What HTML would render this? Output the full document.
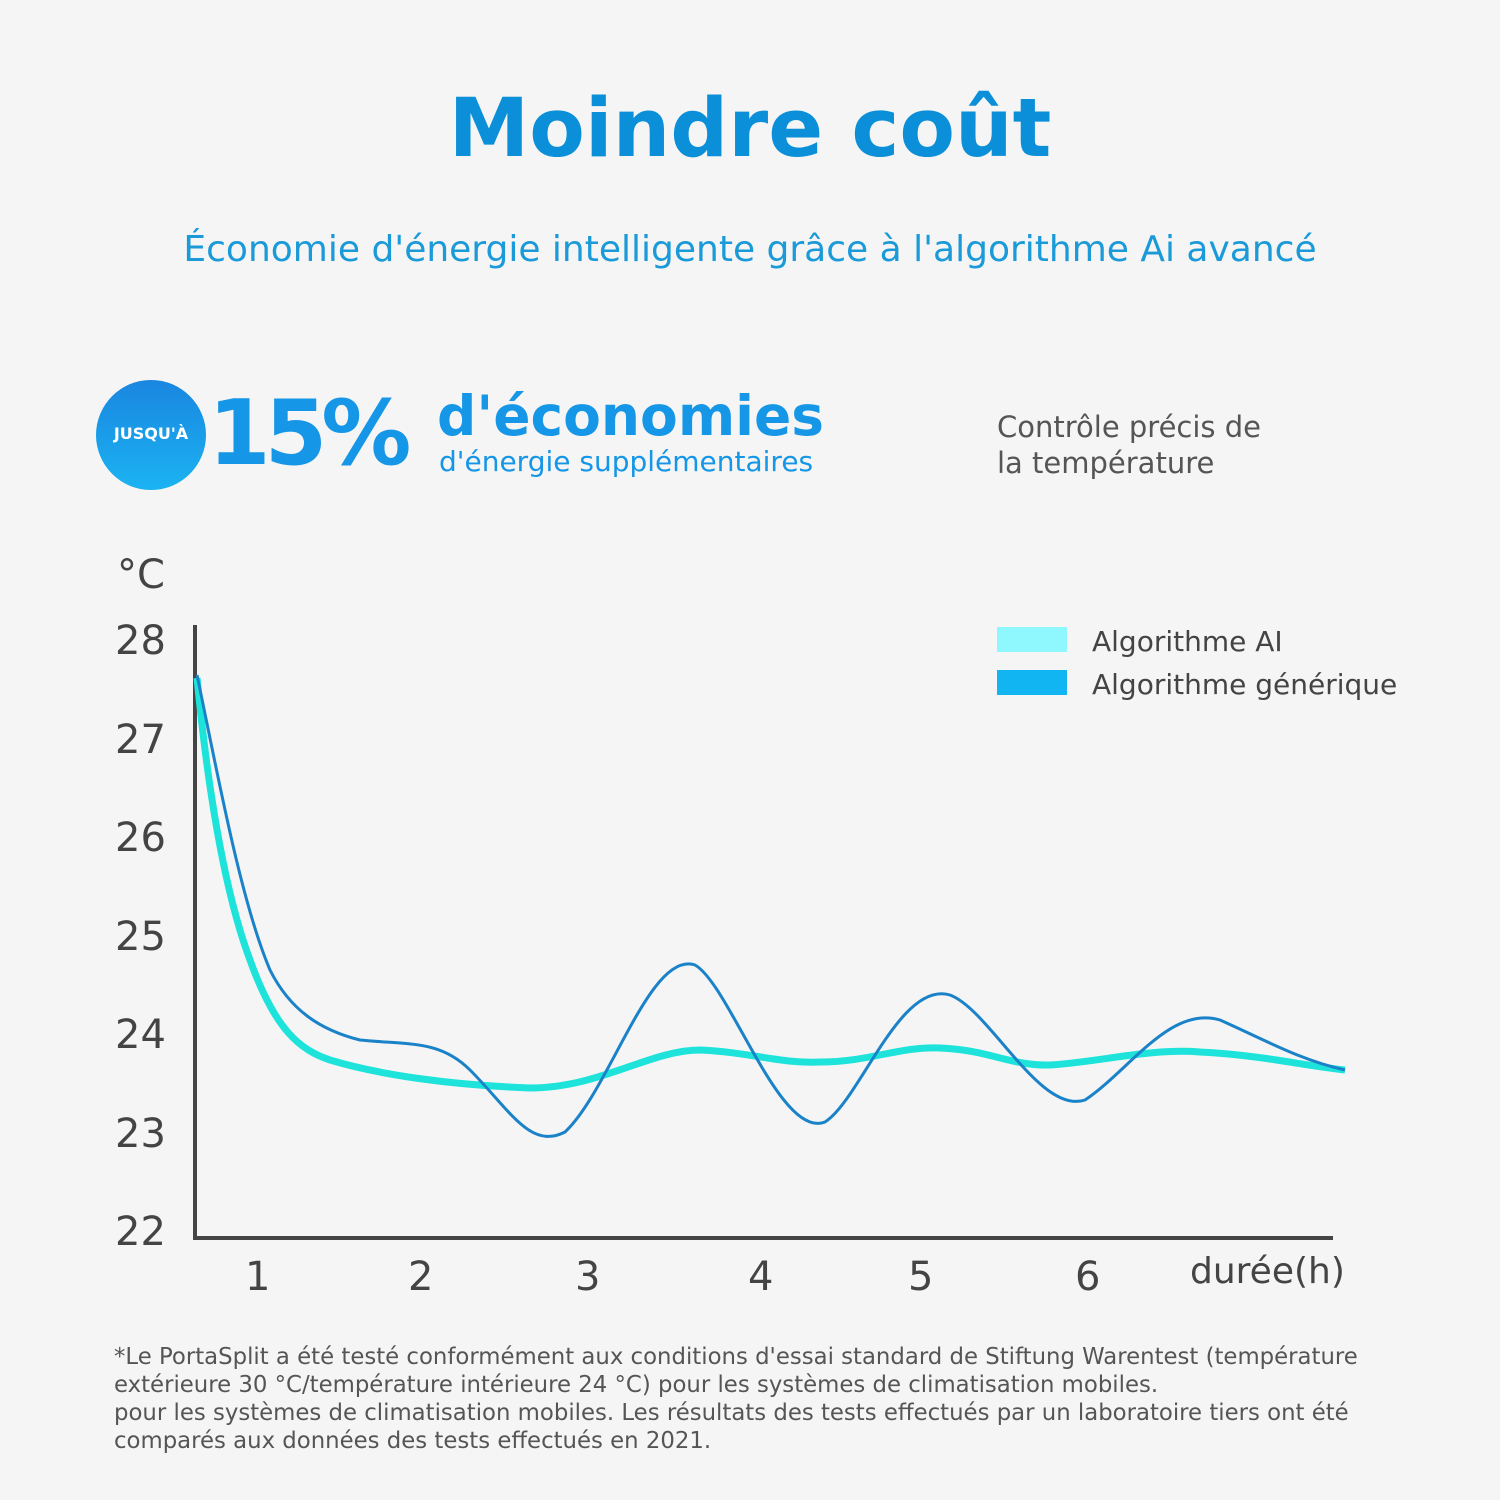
<!DOCTYPE html>
<html><head><meta charset="utf-8"><style>
body{margin:0;width:1500px;height:1500px;background:#f5f5f5;font-family:"DejaVu Sans","Liberation Sans",sans-serif;position:relative;overflow:hidden}
.a{position:absolute;white-space:nowrap}
</style></head><body>
<div class="a" style="left:0;width:1500px;text-align:center;top:82px;font-size:81px;font-weight:bold;color:#0a8fd8">Moindre coût</div>
<div class="a" style="left:0;width:1500px;text-align:center;top:229px;font-size:36px;color:#1a9ad8">Économie d'énergie intelligente grâce à l'algorithme Ai avancé</div>
<div class="a" style="left:96px;top:380px;width:110px;height:110px;border-radius:50%;background:linear-gradient(#1a86e0,#1bb3f2)"></div>
<div class="a" style="left:96px;top:424px;width:110px;text-align:center;color:#fff;font-size:16px;font-weight:bold">JUSQU'À</div>
<div class="a" style="left:208px;top:381px;font-size:90px;font-weight:bold;color:#1596e6;letter-spacing:-6px">15%</div>
<div class="a" style="left:437px;top:384px;font-size:55px;font-weight:bold;color:#1596e6">d'économies</div>
<div class="a" style="left:439px;top:445px;font-size:28px;color:#1596e6">d'énergie supplémentaires</div>
<div class="a" style="left:997px;top:409px;font-size:29px;color:#555;line-height:36px">Contrôle précis de<br>la température</div>
<div class="a" style="left:117px;top:552px;font-size:40px;color:#444">°C</div>
<div class="a" style="left:115px;top:592px;font-size:40px;color:#444;line-height:98.5px">28<br>27<br>26<br>25<br>24<br>23<br>22</div>
<svg class="a" style="left:0;top:0" width="1500" height="1500">
<line x1="195" y1="625" x2="195" y2="1240" stroke="#444" stroke-width="4"/>
<line x1="193" y1="1238" x2="1333" y2="1238" stroke="#444" stroke-width="4"/>
<rect x="997" y="627" width="70" height="25" fill="#8ff8ff"/>
<rect x="997" y="670" width="70" height="25" fill="#11b5f2"/>
<path d="M197,678 C205,760 220,880 250,960 C275,1030 300,1050 330,1060 C380,1075 450,1085 530,1088 C600,1088 650,1050 700,1050 C750,1052 780,1064 820,1062 C870,1062 900,1046 940,1048 C990,1050 1010,1066 1050,1065 C1100,1062 1150,1048 1200,1052 C1260,1055 1300,1065 1345,1070" fill="none" stroke="#1de3db" stroke-width="7"/>
<path d="M197,675 C215,760 240,900 270,970 C290,1010 320,1030 360,1040 C410,1045 440,1040 470,1070 C510,1110 530,1150 565,1132 C610,1090 650,950 695,965 C730,985 780,1140 825,1122 C860,1100 900,980 950,995 C990,1010 1040,1115 1085,1100 C1130,1070 1170,1005 1220,1020 C1265,1040 1300,1060 1345,1070" fill="none" stroke="#1a82c8" stroke-width="3"/>
</svg>
<div class="a" style="left:1092px;top:625px;font-size:28px;color:#444">Algorithme AI</div>
<div class="a" style="left:1092px;top:668px;font-size:28px;color:#444">Algorithme générique</div>
<div class="a" style="left:245px;top:1254px;font-size:40px;color:#444">1</div>
<div class="a" style="left:408px;top:1254px;font-size:40px;color:#444">2</div>
<div class="a" style="left:575px;top:1254px;font-size:40px;color:#444">3</div>
<div class="a" style="left:748px;top:1254px;font-size:40px;color:#444">4</div>
<div class="a" style="left:908px;top:1254px;font-size:40px;color:#444">5</div>
<div class="a" style="left:1075px;top:1254px;font-size:40px;color:#444">6</div>
<div class="a" style="left:1190px;top:1251px;font-size:36px;color:#444">durée(h)</div>
<div class="a" style="left:114px;top:1343px;font-size:22.8px;color:#555;line-height:28px">*Le PortaSplit a été testé conformément aux conditions d'essai standard de Stiftung Warentest (température<br>extérieure 30 °C/température intérieure 24 °C) pour les systèmes de climatisation mobiles.<br>pour les systèmes de climatisation mobiles. Les résultats des tests effectués par un laboratoire tiers ont été<br>comparés aux données des tests effectués en 2021.</div>
</body></html>
